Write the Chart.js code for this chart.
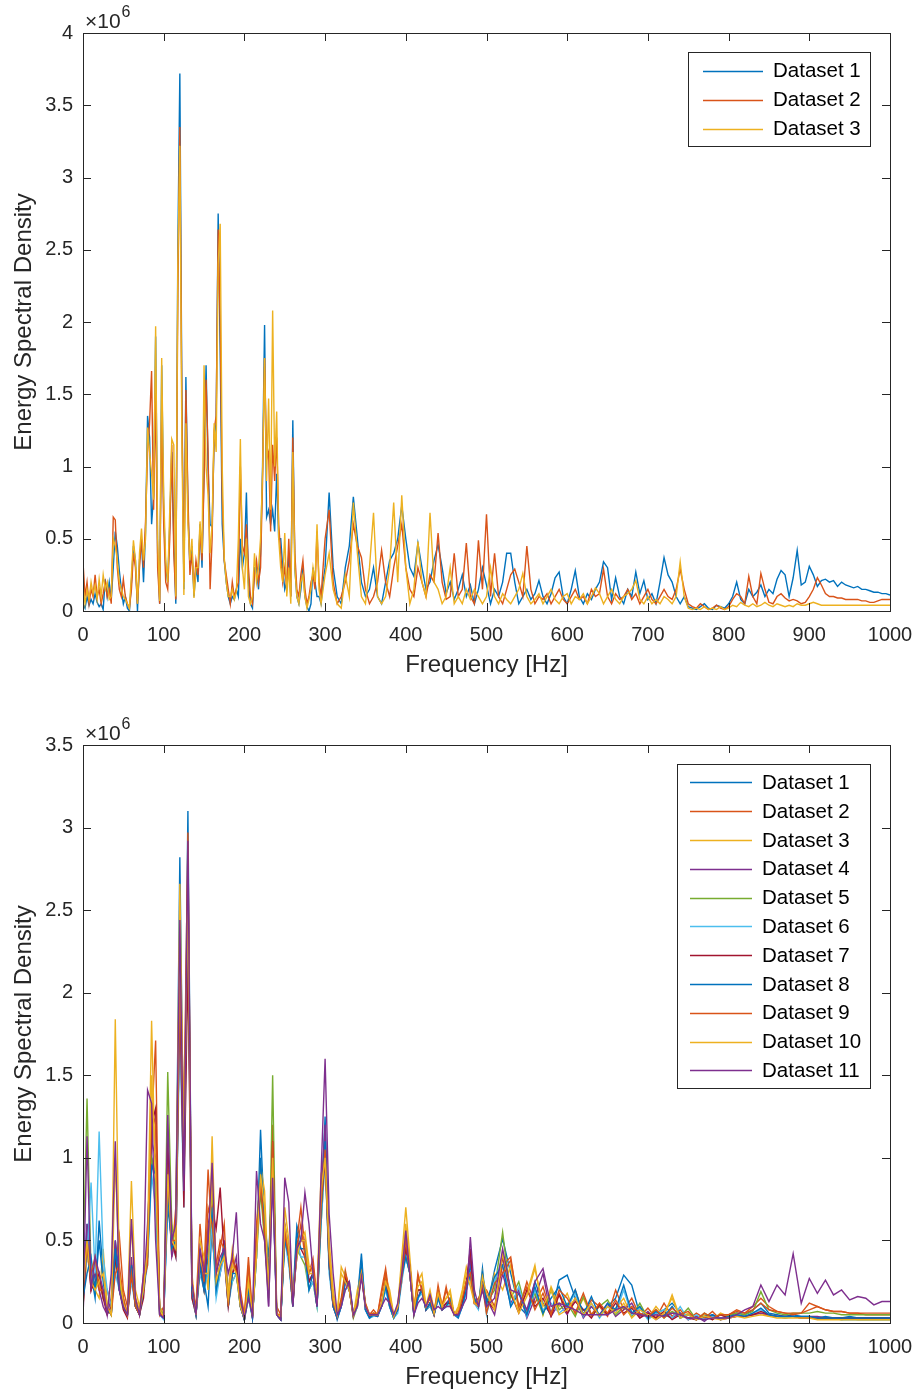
<!DOCTYPE html>
<html><head><meta charset="utf-8">
<script src="https://cdn.jsdelivr.net/npm/chart.js@4.4.1/dist/chart.umd.min.js"></script>
<style>
html,body{margin:0;padding:0;background:#fff;}
#wrap{position:relative;width:917px;height:1393px;overflow:hidden;}
#c1{position:absolute;left:0;top:0;}
#c2{position:absolute;left:0;top:700px;}
</style></head><body>
<div id="wrap"><canvas id="c1" width="917" height="700"></canvas><canvas id="c2" width="917" height="693"></canvas></div>
<script>
// ---------- DATA (values in units of 10^6) ----------
const freqTop = [
0,2.5,5,7.5,10,12.5,15,17.5,20,22.5,
25,27.5,30,32.5,35,37.5,40,42.5,45,47.5,
50,52.5,55,57.5,60,62.5,65,67.5,70,72.5,
75,77.5,80,82.5,85,87.5,90,92.5,95,97.5,
100,102.5,105,107.5,110,112.5,115,117.5,120,122.5,
125,127.5,130,132.5,135,137.5,140,142.5,145,147.5,
150,152.5,155,157.5,160,162.5,165,167.5,170,172.5,
175,177.5,180,182.5,185,187.5,190,192.5,195,197.5,
200,202.5,205,207.5,210,212.5,215,217.5,220,222.5,
225,227.5,230,232.5,235,237.5,240,242.5,245,247.5,
250,252.5,255,257.5,260,262.5,265,267.5,270,272.5,
275,277.5,280,282.5,285,287.5,290,292.5,295,297.5,
300,
305,310,315,320,325,330,335,340,345,350,
355,360,365,370,375,380,385,390,395,400,
405,410,415,420,425,430,435,440,445,450,
455,460,465,470,475,480,485,490,495,500,
505,510,515,520,525,530,535,540,545,550,
555,560,565,570,575,580,585,590,595,600,
605,610,615,620,625,630,635,640,645,650,
655,660,665,670,675,680,685,690,695,700,
705,710,715,720,725,730,735,740,745,750,
755,760,765,770,775,780,785,790,795,800,
805,810,815,820,825,830,835,840,845,850,
855,860,865,870,875,880,885,890,895,900,
905,910,915,920,925,930,935,940,945,950,
955,960,965,970,975,980,985,990,995,1000];

const top1 = [
0.05,0.02,0.1,0.04,0.08,0.05,0.12,0.06,0.03,0.05,
0.01,0.22,0.1,0.2,0.08,0.3,0.55,0.45,0.28,0.15,
0.05,0.1,0.02,0.0,0.2,0.45,0.35,0.0,0.35,0.48,
0.2,0.55,1.35,1.2,0.6,0.8,1.9,0.4,0.05,1.7,
0.7,0.3,0.2,0.6,1.1,0.5,0.05,2.5,3.72,1.5,
0.15,1.62,0.7,0.3,0.45,0.1,0.3,0.2,0.6,0.3,
1.0,1.7,1.0,0.6,0.58,1.2,1.3,2.75,1.8,0.6,
0.35,0.2,0.1,0.05,0.1,0.08,0.15,0.1,0.5,0.3,
0.4,0.82,0.2,0.05,0.02,0.3,0.3,0.15,0.4,1.0,
1.98,0.65,0.7,0.6,0.7,0.55,0.95,0.5,0.5,0.3,
0.15,0.2,0.4,0.1,1.32,0.3,0.1,0.05,0.15,0.3,
0.1,0.03,0.0,0.05,0.3,0.2,0.1,0.1,0.05,0.2,
0.3,
0.82,0.3,0.1,0.05,0.3,0.45,0.79,0.5,0.2,0.1,
0.15,0.3,0.1,0.05,0.2,0.35,0.4,0.5,0.73,0.5,
0.3,0.24,0.47,0.3,0.15,0.2,0.35,0.46,0.3,0.12,
0.2,0.08,0.15,0.25,0.1,0.18,0.05,0.15,0.3,0.18,
0.05,0.15,0.1,0.2,0.4,0.4,0.2,0.05,0.1,0.15,
0.08,0.12,0.21,0.1,0.05,0.12,0.23,0.27,0.1,0.05,
0.15,0.28,0.1,0.05,0.12,0.08,0.15,0.2,0.34,0.3,
0.08,0.23,0.1,0.05,0.15,0.1,0.27,0.12,0.21,0.08,
0.12,0.05,0.2,0.37,0.25,0.2,0.1,0.05,0.1,0.03,
0.02,0.01,0.03,0.05,0.02,0.01,0.04,0.03,0.02,0.05,
0.1,0.2,0.08,0.05,0.15,0.1,0.13,0.18,0.1,0.15,
0.12,0.22,0.28,0.25,0.1,0.23,0.42,0.18,0.2,0.31,
0.25,0.17,0.21,0.22,0.2,0.21,0.17,0.2,0.18,0.17,
0.16,0.17,0.15,0.15,0.14,0.13,0.13,0.12,0.12,0.11];

const top2 = [
0.34,0.1,0.2,0.05,0.15,0.1,0.25,0.1,0.15,0.05,
0.12,0.2,0.1,0.15,0.05,0.65,0.63,0.3,0.15,0.1,
0.22,0.1,0.05,0.02,0.15,0.4,0.3,0.05,0.3,0.5,
0.3,0.62,1.1,1.3,1.66,0.7,1.5,0.3,0.05,1.4,
0.6,0.2,0.15,0.5,1.15,0.4,0.08,2.2,3.35,1.4,
0.2,1.53,0.8,0.25,0.4,0.15,0.35,0.25,0.55,0.35,
0.9,1.6,1.1,0.15,0.5,1.25,1.35,2.64,2.0,0.8,
0.35,0.25,0.15,0.05,0.2,0.1,0.15,0.2,1.0,0.45,
0.4,0.6,0.3,0.1,0.05,0.25,0.35,0.2,0.3,0.9,
1.75,1.05,1.1,0.55,1.15,0.9,1.2,0.6,0.4,0.2,
0.3,0.15,0.5,0.1,1.2,0.4,0.15,0.1,0.25,0.35,
0.15,0.05,0.1,0.2,0.25,0.15,0.55,0.2,0.1,0.3,
0.5,
0.7,0.2,0.05,0.1,0.2,0.35,0.6,0.45,0.37,0.15,
0.05,0.1,0.2,0.42,0.2,0.1,0.3,0.45,0.6,0.3,
0.15,0.1,0.3,0.2,0.1,0.25,0.2,0.54,0.2,0.08,
0.1,0.4,0.1,0.15,0.47,0.1,0.05,0.49,0.15,0.67,
0.1,0.4,0.1,0.05,0.15,0.25,0.29,0.2,0.1,0.45,
0.15,0.05,0.1,0.08,0.12,0.05,0.1,0.15,0.08,0.05,
0.1,0.15,0.08,0.1,0.05,0.15,0.1,0.12,0.29,0.1,
0.05,0.12,0.08,0.1,0.15,0.08,0.12,0.05,0.1,0.15,
0.08,0.05,0.1,0.15,0.1,0.08,0.15,0.29,0.15,0.05,
0.03,0.02,0.05,0.03,0.01,0.02,0.04,0.02,0.01,0.03,
0.08,0.12,0.1,0.05,0.24,0.1,0.05,0.26,0.15,0.06,
0.05,0.1,0.12,0.09,0.07,0.08,0.07,0.05,0.06,0.1,
0.15,0.23,0.18,0.12,0.1,0.1,0.09,0.09,0.08,0.08,
0.08,0.08,0.07,0.07,0.06,0.06,0.07,0.08,0.08,0.08];

const top3 = [
0.18,0.05,0.15,0.08,0.2,0.12,0.18,0.08,0.22,0.1,
0.25,0.15,0.2,0.08,0.1,0.5,0.45,0.35,0.2,0.15,
0.1,0.08,0.05,0.02,0.25,0.49,0.35,0.05,0.4,0.57,
0.35,0.5,1.27,1.1,0.95,0.77,1.97,0.5,0.07,1.75,
0.8,0.35,0.2,0.7,1.19,1.15,0.1,2.4,3.22,1.2,
0.11,1.3,0.6,0.35,0.5,0.09,0.3,0.3,0.62,0.4,
1.7,1.0,0.8,0.4,0.6,1.3,1.1,2.4,2.68,1.0,
0.37,0.2,0.1,0.1,0.15,0.08,0.13,0.5,1.19,0.3,
0.15,0.5,0.1,0.05,0.1,0.4,0.2,0.3,0.5,0.95,
1.75,0.9,1.47,0.7,2.08,1.0,1.38,0.5,0.3,0.2,
0.54,0.1,0.3,0.05,1.1,0.3,0.1,0.05,0.2,0.25,
0.1,0.02,0.08,0.15,0.3,0.2,0.6,0.15,0.05,0.15,
0.25,
0.4,0.15,0.05,0.02,0.25,0.1,0.75,0.4,0.1,0.05,
0.3,0.68,0.1,0.05,0.1,0.3,0.75,0.2,0.8,0.3,
0.05,0.15,0.48,0.2,0.1,0.68,0.2,0.15,0.05,0.1,
0.3,0.05,0.1,0.05,0.15,0.08,0.15,0.1,0.05,0.1,
0.3,0.1,0.05,0.12,0.08,0.05,0.1,0.15,0.26,0.1,
0.05,0.08,0.12,0.05,0.1,0.15,0.08,0.05,0.1,0.12,
0.05,0.1,0.08,0.12,0.05,0.1,0.16,0.12,0.05,0.1,
0.15,0.08,0.05,0.1,0.12,0.15,0.21,0.08,0.05,0.1,
0.05,0.08,0.05,0.1,0.08,0.05,0.1,0.34,0.1,0.02,
0.01,0.02,0.01,0.03,0.01,0.02,0.01,0.03,0.01,0.02,
0.04,0.03,0.06,0.04,0.03,0.05,0.03,0.04,0.06,0.04,
0.03,0.05,0.04,0.03,0.04,0.03,0.05,0.04,0.04,0.05,
0.06,0.05,0.04,0.04,0.04,0.04,0.04,0.04,0.04,0.04,
0.04,0.04,0.04,0.04,0.04,0.04,0.04,0.04,0.04,0.04];

const freqBottom = [
0,5,10,15,20,25,30,35,40,45,
50,55,60,65,70,75,80,85,90,95,
100,105,110,115,120,125,130,135,140,145,
150,155,160,165,170,175,180,185,190,195,
200,205,210,215,220,225,230,235,240,245,
250,255,260,265,270,275,280,285,290,295,
300,305,310,315,320,325,330,335,340,345,
350,355,360,365,370,375,380,385,390,395,
400,405,410,415,420,425,430,435,440,445,
450,455,460,465,470,475,480,485,490,495,
500,510,520,530,540,550,560,570,580,590,
600,610,620,630,640,650,660,670,680,690,
700,710,720,730,740,750,760,770,780,790,
800,810,820,830,840,850,860,870,880,890,
900,910,920,930,940,950,960,970,980,990,
1000];

const bot1 = [
0.2,0.6,0.3,0.15,0.62,0.3,0.1,0.05,0.5,0.3,
0.15,0.05,0.3,0.1,0.05,0.25,0.45,1.0,0.8,0.1,
0.05,0.7,0.5,0.6,2.82,0.9,3.1,0.25,0.05,0.4,
0.25,0.1,0.6,0.2,0.3,0.5,0.15,0.3,0.35,0.15,
0.02,0.2,0.05,0.4,1.17,0.6,0.4,0.9,0.05,0.02,
0.55,0.4,0.15,0.59,0.5,0.5,0.25,0.3,0.1,0.7,
1.25,0.4,0.15,0.02,0.1,0.25,0.25,0.05,0.15,0.42,
0.08,0.03,0.05,0.04,0.12,0.25,0.1,0.03,0.08,0.3,
0.45,0.35,0.05,0.15,0.2,0.08,0.12,0.05,0.15,0.08,
0.1,0.15,0.05,0.03,0.1,0.2,0.35,0.15,0.1,0.33,
0.08,0.32,0.51,0.3,0.1,0.05,0.25,0.12,0.05,0.26,
0.29,0.15,0.08,0.1,0.05,0.1,0.15,0.29,0.23,0.05,
0.04,0.06,0.08,0.12,0.06,0.03,0.04,0.02,0.05,0.03,
0.04,0.06,0.05,0.08,0.12,0.06,0.05,0.04,0.05,0.04,
0.04,0.03,0.04,0.03,0.03,0.04,0.03,0.03,0.03,0.03,
0.03];
const bot2 = [
0.35,0.5,0.2,0.3,0.25,0.15,0.2,0.1,0.35,0.53,
0.2,0.1,0.35,0.15,0.05,0.3,0.4,1.2,1.71,0.05,
0.1,0.9,0.4,0.7,2.3,1.2,2.97,0.2,0.1,0.6,
0.3,0.93,0.5,0.3,0.45,0.6,0.1,0.4,0.3,0.2,
0.05,0.4,0.05,0.6,0.9,0.5,0.2,1.2,0.1,0.05,
0.6,0.4,0.1,0.5,0.7,0.45,0.3,0.39,0.15,0.8,
1.1,0.35,0.1,0.05,0.15,0.32,0.2,0.05,0.1,0.3,
0.1,0.05,0.08,0.05,0.2,0.33,0.15,0.05,0.1,0.25,
0.5,0.3,0.05,0.3,0.2,0.1,0.15,0.05,0.23,0.1,
0.22,0.1,0.05,0.08,0.15,0.25,0.3,0.12,0.15,0.2,
0.2,0.1,0.35,0.4,0.08,0.25,0.12,0.22,0.06,0.18,
0.08,0.2,0.05,0.14,0.1,0.04,0.2,0.08,0.15,0.04,
0.09,0.03,0.12,0.04,0.08,0.02,0.06,0.03,0.07,0.02,
0.05,0.08,0.06,0.1,0.15,0.1,0.07,0.06,0.05,0.06,
0.12,0.1,0.08,0.07,0.07,0.06,0.06,0.05,0.05,0.05,
0.05];
const bot3 = [
0.1,0.4,0.3,0.2,0.15,0.45,0.1,0.05,1.84,0.3,
0.15,0.05,0.86,0.2,0.1,0.25,0.5,1.83,0.8,0.1,
0.05,1.0,0.6,0.5,2.66,1.0,2.5,0.3,0.05,0.5,
0.4,0.2,1.13,0.3,0.35,0.4,0.2,0.45,0.3,0.1,
0.03,0.3,0.05,0.45,0.95,0.8,0.2,1.05,0.05,0.05,
0.7,0.5,0.2,0.4,0.5,0.55,0.35,0.3,0.2,0.9,
1.0,0.5,0.2,0.05,0.34,0.28,0.2,0.05,0.2,0.3,
0.12,0.05,0.05,0.06,0.1,0.28,0.2,0.05,0.1,0.4,
0.7,0.4,0.1,0.25,0.3,0.1,0.2,0.08,0.2,0.12,
0.15,0.2,0.05,0.1,0.2,0.34,0.25,0.15,0.1,0.3,
0.06,0.3,0.2,0.35,0.08,0.18,0.35,0.05,0.22,0.1,
0.18,0.05,0.15,0.04,0.12,0.05,0.09,0.15,0.04,0.1,
0.03,0.1,0.04,0.17,0.03,0.06,0.02,0.05,0.02,0.06,
0.04,0.05,0.04,0.05,0.06,0.04,0.04,0.03,0.04,0.03,
0.03,0.03,0.03,0.03,0.02,0.03,0.02,0.02,0.02,0.02,
0.02];
const bot4 = [
0.05,0.6,0.2,0.3,0.2,0.1,0.05,0.15,0.5,0.2,
0.1,0.05,0.4,0.1,0.05,0.2,0.6,1.1,1.0,0.05,
0.05,0.9,0.4,0.5,1.9,0.8,2.6,0.2,0.05,0.4,
0.2,0.6,0.7,0.2,0.3,0.5,0.1,0.3,0.4,0.1,
0.02,0.2,0.03,0.5,0.8,0.6,0.1,0.9,0.05,0.02,
0.6,0.45,0.15,0.4,0.5,0.5,0.25,0.3,0.1,0.75,
1.2,0.4,0.1,0.03,0.1,0.25,0.2,0.04,0.12,0.3,
0.08,0.04,0.05,0.04,0.1,0.22,0.12,0.04,0.08,0.3,
0.45,0.3,0.06,0.15,0.22,0.08,0.12,0.05,0.15,0.1,
0.12,0.15,0.05,0.05,0.12,0.22,0.4,0.12,0.1,0.25,
0.15,0.05,0.3,0.12,0.2,0.03,0.15,0.3,0.04,0.12,
0.05,0.15,0.03,0.1,0.05,0.12,0.04,0.08,0.12,0.03,
0.07,0.02,0.05,0.03,0.06,0.02,0.04,0.01,0.05,0.02,
0.03,0.04,0.04,0.05,0.06,0.05,0.04,0.04,0.04,0.03,
0.04,0.04,0.03,0.03,0.03,0.03,0.03,0.03,0.03,0.03,
0.03];
const bot5 = [
0.3,1.36,0.3,0.2,0.3,0.15,0.1,0.05,0.4,0.25,
0.1,0.05,0.3,0.12,0.05,0.2,0.4,1.0,0.9,0.08,
0.05,1.52,0.6,0.4,2.0,0.8,2.5,0.2,0.05,0.35,
0.2,0.5,0.8,0.2,0.35,0.45,0.15,0.25,0.3,0.12,
0.02,0.15,0.04,0.4,0.8,0.5,0.15,1.5,0.05,0.03,
0.5,0.4,0.1,0.45,0.4,0.35,0.2,0.25,0.1,0.6,
1.0,0.35,0.12,0.04,0.12,0.3,0.2,0.03,0.1,0.3,
0.1,0.04,0.06,0.05,0.1,0.25,0.1,0.03,0.1,0.3,
0.4,0.3,0.05,0.2,0.2,0.08,0.1,0.06,0.18,0.08,
0.1,0.12,0.06,0.05,0.12,0.25,0.3,0.15,0.1,0.25,
0.12,0.2,0.55,0.15,0.25,0.06,0.18,0.05,0.2,0.08,
0.12,0.04,0.16,0.05,0.1,0.14,0.05,0.1,0.04,0.12,
0.03,0.08,0.03,0.07,0.04,0.09,0.02,0.06,0.03,0.05,
0.05,0.06,0.05,0.07,0.19,0.08,0.06,0.05,0.06,0.06,
0.06,0.07,0.06,0.06,0.05,0.05,0.05,0.05,0.05,0.05,
0.05];
const bot6 = [
0.2,0.4,0.85,0.3,1.16,0.4,0.2,0.1,0.3,0.2,
0.1,0.05,0.25,0.1,0.05,0.2,0.35,0.9,0.7,0.05,
0.02,0.8,0.5,0.4,1.8,0.7,2.4,0.15,0.05,0.3,
0.2,0.3,0.6,0.15,0.3,0.4,0.1,0.25,0.3,0.1,
0.02,0.15,0.03,0.4,0.9,0.6,0.25,1.0,0.05,0.02,
0.5,0.35,0.1,0.5,0.4,0.4,0.2,0.25,0.1,0.6,
1.0,0.3,0.1,0.03,0.1,0.2,0.22,0.04,0.1,0.35,
0.08,0.03,0.04,0.04,0.1,0.2,0.1,0.03,0.06,0.25,
0.4,0.3,0.05,0.15,0.18,0.08,0.1,0.05,0.15,0.08,
0.1,0.12,0.05,0.04,0.1,0.2,0.3,0.12,0.08,0.28,
0.05,0.25,0.4,0.1,0.22,0.04,0.2,0.08,0.12,0.06,
0.1,0.18,0.04,0.12,0.03,0.1,0.06,0.2,0.05,0.09,
0.02,0.06,0.08,0.03,0.1,0.02,0.05,0.02,0.04,0.03,
0.03,0.05,0.04,0.06,0.08,0.05,0.04,0.03,0.04,0.03,
0.03,0.03,0.03,0.03,0.02,0.02,0.02,0.02,0.02,0.02,
0.02];
const bot7 = [
0.1,0.5,0.2,0.25,0.3,0.15,0.05,0.1,0.4,0.2,
0.08,0.03,0.3,0.1,0.05,0.15,0.45,1.2,1.3,0.05,
0.04,1.1,0.5,0.4,2.0,0.7,2.2,0.15,0.05,0.35,
0.2,0.5,0.7,0.57,0.82,0.4,0.1,0.3,0.35,0.1,
0.02,0.2,0.03,0.45,0.85,0.6,0.2,1.1,0.05,0.02,
0.55,0.4,0.1,0.5,0.45,0.4,0.25,0.3,0.1,0.7,
1.0,0.35,0.1,0.03,0.12,0.28,0.2,0.04,0.12,0.3,
0.1,0.04,0.05,0.04,0.12,0.25,0.12,0.04,0.08,0.3,
0.45,0.35,0.06,0.2,0.2,0.08,0.12,0.05,0.18,0.08,
0.12,0.12,0.05,0.05,0.12,0.25,0.45,0.12,0.1,0.28,
0.14,0.08,0.4,0.18,0.06,0.2,0.1,0.15,0.04,0.17,
0.06,0.13,0.08,0.03,0.11,0.05,0.12,0.06,0.09,0.03,
0.06,0.03,0.07,0.02,0.05,0.03,0.02,0.04,0.02,0.05,
0.03,0.04,0.04,0.05,0.07,0.05,0.04,0.04,0.04,0.03,
0.03,0.03,0.03,0.03,0.03,0.03,0.03,0.03,0.03,0.03,
0.03];
const bot8 = [
0.15,0.3,0.4,0.2,0.5,0.25,0.08,0.05,0.45,0.2,
0.1,0.05,0.35,0.1,0.05,0.2,0.4,0.95,0.9,0.05,
0.03,0.8,0.45,0.5,2.3,0.9,2.7,0.2,0.05,0.35,
0.2,0.4,0.7,0.2,0.35,0.45,0.1,0.3,0.3,0.1,
0.02,0.2,0.03,0.45,1.0,0.6,0.3,1.0,0.05,0.02,
0.5,0.4,0.1,0.55,0.45,0.45,0.2,0.3,0.1,0.65,
1.1,0.35,0.1,0.03,0.1,0.25,0.22,0.05,0.12,0.38,
0.08,0.03,0.05,0.04,0.1,0.22,0.1,0.03,0.08,0.28,
0.4,0.3,0.05,0.15,0.2,0.08,0.12,0.05,0.15,0.08,
0.1,0.15,0.05,0.04,0.1,0.2,0.3,0.15,0.1,0.3,
0.12,0.28,0.35,0.1,0.18,0.05,0.22,0.06,0.15,0.22,
0.1,0.2,0.05,0.16,0.04,0.12,0.08,0.23,0.06,0.1,
0.03,0.07,0.04,0.1,0.03,0.05,0.02,0.04,0.05,0.02,
0.04,0.05,0.04,0.06,0.09,0.05,0.04,0.04,0.04,0.04,
0.04,0.03,0.03,0.03,0.03,0.03,0.03,0.03,0.03,0.03,
0.03];
const bot9 = [
0.25,0.45,0.3,0.4,0.2,0.2,0.1,0.05,0.3,0.35,
0.15,0.05,0.3,0.1,0.05,0.25,0.35,1.3,1.2,0.05,
0.05,0.9,0.5,0.5,2.1,1.0,2.8,0.25,0.08,0.45,
0.25,0.7,0.6,0.35,0.5,0.45,0.1,0.4,0.3,0.15,
0.04,0.35,0.04,0.5,0.85,0.55,0.2,1.1,0.06,0.04,
0.55,0.4,0.12,0.45,0.6,0.4,0.3,0.35,0.12,0.7,
1.05,0.4,0.12,0.05,0.12,0.3,0.22,0.05,0.12,0.3,
0.12,0.05,0.06,0.05,0.18,0.3,0.15,0.04,0.1,0.28,
0.5,0.3,0.06,0.28,0.2,0.1,0.15,0.06,0.2,0.1,
0.2,0.12,0.06,0.06,0.15,0.25,0.3,0.12,0.12,0.22,
0.06,0.24,0.3,0.38,0.1,0.22,0.08,0.18,0.05,0.2,
0.15,0.06,0.18,0.05,0.12,0.06,0.14,0.05,0.1,0.06,
0.04,0.08,0.03,0.09,0.05,0.07,0.02,0.06,0.03,0.05,
0.05,0.07,0.06,0.08,0.12,0.08,0.07,0.06,0.06,0.06,
0.08,0.1,0.08,0.07,0.07,0.06,0.06,0.06,0.06,0.06,
0.06];
const bot10 = [
0.2,0.5,0.25,0.2,0.25,0.3,0.1,0.05,1.0,0.3,
0.12,0.05,0.6,0.15,0.08,0.2,0.45,1.5,0.9,0.08,
0.04,0.9,0.5,0.45,2.4,1.0,2.6,0.25,0.05,0.4,
0.3,0.3,0.9,0.25,0.35,0.4,0.15,0.35,0.3,0.1,
0.03,0.25,0.05,0.4,0.9,0.7,0.2,1.0,0.05,0.04,
0.6,0.45,0.15,0.4,0.5,0.5,0.3,0.3,0.15,0.8,
1.0,0.45,0.15,0.05,0.3,0.25,0.2,0.05,0.15,0.3,
0.1,0.05,0.05,0.05,0.12,0.25,0.18,0.04,0.1,0.35,
0.6,0.35,0.08,0.22,0.25,0.1,0.18,0.06,0.18,0.1,
0.15,0.18,0.05,0.08,0.18,0.3,0.22,0.12,0.1,0.28,
0.18,0.08,0.42,0.2,0.06,0.16,0.33,0.1,0.2,0.05,
0.08,0.15,0.05,0.12,0.04,0.1,0.06,0.12,0.03,0.08,
0.05,0.02,0.06,0.15,0.03,0.05,0.02,0.04,0.03,0.02,
0.03,0.04,0.03,0.04,0.05,0.04,0.03,0.03,0.03,0.03,
0.03,0.02,0.02,0.02,0.02,0.02,0.02,0.02,0.02,0.02,
0.02];
const bot11 = [
0.1,1.13,0.2,0.4,0.3,0.2,0.05,0.3,1.1,0.2,
0.1,0.05,0.63,0.15,0.05,0.3,1.41,1.33,0.5,0.05,
0.03,1.26,0.5,0.6,2.44,0.8,2.92,0.25,0.05,0.45,
0.3,0.5,0.97,0.3,0.4,0.45,0.3,0.4,0.67,0.15,
0.03,0.15,0.05,0.92,0.6,0.5,0.1,0.88,0.05,0.02,
0.88,0.73,0.1,0.45,0.5,0.79,0.6,0.3,0.1,0.9,
1.6,0.66,0.3,0.05,0.1,0.2,0.25,0.05,0.1,0.28,
0.1,0.05,0.05,0.05,0.1,0.15,0.12,0.05,0.12,0.3,
0.56,0.3,0.05,0.12,0.15,0.1,0.17,0.08,0.1,0.08,
0.1,0.1,0.05,0.05,0.1,0.15,0.52,0.2,0.1,0.2,
0.1,0.15,0.45,0.2,0.18,0.08,0.25,0.33,0.1,0.12,
0.1,0.08,0.05,0.05,0.05,0.05,0.08,0.1,0.06,0.05,
0.04,0.05,0.04,0.06,0.05,0.03,0.03,0.02,0.03,0.03,
0.03,0.05,0.08,0.1,0.23,0.13,0.23,0.17,0.42,0.12,
0.27,0.18,0.26,0.17,0.2,0.14,0.16,0.15,0.11,0.13,
0.13];

const topLabels = ['Dataset 1','Dataset 2','Dataset 3'];
const bottomLabels = ['Dataset 1','Dataset 2','Dataset 3','Dataset 4','Dataset 5','Dataset 6','Dataset 7','Dataset 8','Dataset 9','Dataset 10','Dataset 11'];
const xTickValues = [0,100,200,300,400,500,600,700,800,900,1000];
const yTopMax = 4;
const yBottomMax = 3.5;

// ---------- STYLE ----------
const palette = ['#0072BD','#D95319','#EDB120','#7E2F8E','#77AC30','#4DBEEE','#A2142F'];
const FONT = '"Liberation Sans", Arial, Helvetica, sans-serif';
const INK = '#262626';
Chart.defaults.font.family = FONT;
Chart.defaults.color = INK;

const framePlugin = {
  id: 'frame',
  afterDraw(chart, args, opts) {
    const {ctx, chartArea: a, scales: {x, y}} = chart;
    ctx.save();
    ctx.strokeStyle = INK;
    ctx.lineWidth = 1;
    const L = (x0, y0, x1, y1) => { ctx.beginPath(); ctx.moveTo(x0, y0); ctx.lineTo(x1, y1); ctx.stroke(); };
    const tl = 8;
    x.ticks.forEach(t => {
      const px = Math.round(x.getPixelForValue(t.value)) + 0.5;
      L(px, a.bottom, px, a.bottom - tl);
      L(px, a.top, px, a.top + tl);
    });
    y.ticks.forEach(t => {
      const py = Math.round(y.getPixelForValue(t.value)) + 0.5;
      L(a.left, py, a.left + tl, py);
      L(a.right, py, a.right - tl, py);
    });
    ctx.strokeRect(Math.round(a.left) + 0.5, Math.round(a.top) + 0.5, Math.round(a.right - a.left), Math.round(a.bottom - a.top));
    // exponent label
    ctx.fillStyle = INK;
    ctx.textBaseline = 'alphabetic';
    ctx.textAlign = 'left';
    ctx.font = '21px ' + FONT;
    const ex = a.left + 2, ey = a.top - 5;
    ctx.fillText('\u00d710', ex, ey);
    const w = ctx.measureText('\u00d710').width;
    ctx.font = '16px ' + FONT;
    ctx.fillText('6', ex + w + 1, ey - 11);
    // legend
    const lg = opts.legend;
    const ds = chart.data.datasets;
    const h = ds.length * lg.rowH + 7;
    const left = a.right - lg.rightGap - lg.width;
    const top = a.top + lg.topGap;
    ctx.fillStyle = '#ffffff';
    ctx.fillRect(left, top, lg.width, h);
    ctx.strokeStyle = INK;
    ctx.lineWidth = 1;
    ctx.strokeRect(Math.round(left) + 0.5, Math.round(top) + 0.5, lg.width, Math.round(h));
    ctx.font = '20.5px ' + FONT;
    ctx.textBaseline = 'middle';
    ds.forEach((d, i) => {
      const cy = top + 4 + lg.rowH / 2 + i * lg.rowH;
      ctx.strokeStyle = d.borderColor;
      ctx.lineWidth = 1.5;
      L(left + lg.lineX0, Math.round(cy) + 0.5, left + lg.lineX1, Math.round(cy) + 0.5);
      ctx.fillStyle = '#000000';
      ctx.fillText(d.label, left + lg.textX, cy + 1);
    });
    ctx.restore();
  }
};

function makeChart(id, freq, series, labels, yMax, pad, legendOpts) {
  const n = series.length;
  const datasets = series.map((vals, i) => ({
    label: labels[i],
    data: freq.map((f, j) => ({x: f, y: vals[j]})),
    borderColor: palette[i % palette.length],
    backgroundColor: palette[i % palette.length],
    borderWidth: 1.4,
    pointRadius: 0,
    tension: 0,
    fill: false,
    order: n - i
  }));
  return new Chart(document.getElementById(id), {
    type: 'line',
    data: {datasets},
    plugins: [framePlugin],
    options: {
      responsive: false,
      animation: false,
      events: [],
      layout: {padding: pad},
      plugins: {legend: {display: false}, tooltip: {enabled: false}, frame: {legend: legendOpts}},
      scales: {
        x: {
          type: 'linear', min: 0, max: 1000,
          afterBuildTicks: s => { s.ticks = xTickValues.map(v => ({value: v})); },
          ticks: {font: {size: 20}, color: INK, padding: 12, maxRotation: 0, autoSkip: false,
                  callback: v => String(v)},
          grid: {display: false, drawTicks: false, tickLength: 0},
          border: {display: false},
          title: {display: true, text: 'Frequency [Hz]', font: {size: 24}, color: INK, padding: 0},
          afterFit: s => { s.height = 69; s.paddingLeft = 0; s.paddingRight = 0; }
        },
        y: {
          type: 'linear', min: 0, max: yMax,
          ticks: {stepSize: 0.5, font: {size: 20}, color: INK, padding: 10,
                  callback: v => String(Math.round(v * 10) / 10)},
          grid: {display: false, drawTicks: false, tickLength: 0},
          border: {display: false},
          title: {display: true, text: 'Energy Spectral Density', font: {size: 24}, color: INK, padding: {top: 10, bottom: 0}},
          afterFit: s => { s.width = 83; s.paddingTop = 0; s.paddingBottom = 0; }
        }
      }
    }
  });
}

makeChart('c1', freqTop, [top1, top2, top3], topLabels, yTopMax,
  {left: 0, right: 27, top: 33, bottom: 20},
  {width: 182, rightGap: 20, topGap: 19, rowH: 29, lineX0: 15, lineX1: 75, textX: 85});
makeChart('c2', freqBottom, [bot1, bot2, bot3, bot4, bot5, bot6, bot7, bot8, bot9, bot10, bot11], bottomLabels, yBottomMax,
  {left: 0, right: 27, top: 45, bottom: 1},
  {width: 193, rightGap: 20, topGap: 19, rowH: 28.8, lineX0: 13, lineX1: 75, textX: 85});
</script>
</body></html>
